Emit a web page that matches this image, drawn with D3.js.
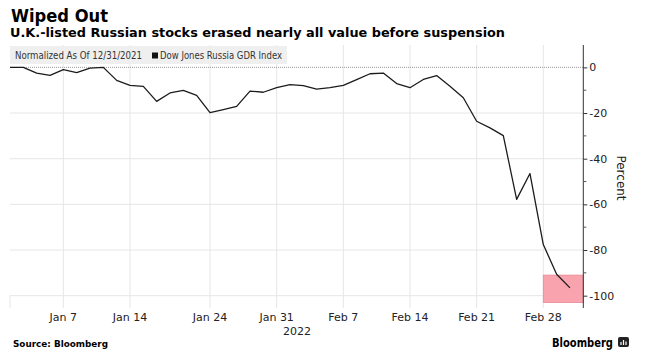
<!DOCTYPE html>
<html>
<head>
<meta charset="utf-8">
<script src="https://cdn.jsdelivr.net/npm/d3@7"></script>
<style>
  html, body { margin: 0; padding: 0; background: #fff; }
  svg { display: block; }
  text { font-family: "DejaVu Sans", Verdana, sans-serif; }
</style>
</head>
<body>
<svg id="chart" width="649" height="360"></svg>
<script>
// ---- Data ----
const dates = [
  "2022-01-03","2022-01-04","2022-01-05","2022-01-06","2022-01-07",
  "2022-01-10","2022-01-11","2022-01-12","2022-01-13","2022-01-14",
  "2022-01-17","2022-01-18","2022-01-19","2022-01-20","2022-01-21",
  "2022-01-24","2022-01-25","2022-01-26","2022-01-27","2022-01-28",
  "2022-01-31","2022-02-01","2022-02-02","2022-02-03","2022-02-04",
  "2022-02-07","2022-02-08","2022-02-09","2022-02-10","2022-02-11",
  "2022-02-14","2022-02-15","2022-02-16","2022-02-17","2022-02-18",
  "2022-02-21","2022-02-22","2022-02-23","2022-02-24","2022-02-25",
  "2022-02-28","2022-03-01","2022-03-02"
];
const gdrIndex = [
  0, 0, -2.5, -3.5, -1,
  -2.3, -0.3, 0, -5.7, -7.9,
  -8.3, -14.9, -11.2, -10.1, -12.3,
  -19.8, -18.5, -17.1, -10.4, -10.9,
  -8.9, -7.6, -8, -9.5, -8.9,
  -7.9, -5.4, -2.8, -2.5, -7.1,
  -8.9, -5.3, -3.6, -8.3, -13.3,
  -23.6, -26.5, -29.9, -57.8, -46.5,
  -77.6, -90.6, -96.6
];
const xTickDates = ["2022-01-07","2022-01-14","2022-01-24","2022-01-31","2022-02-07","2022-02-14","2022-02-21","2022-02-28"];
const xTickLabels = ["Jan 7","Jan 14","Jan 24","Jan 31","Feb 7","Feb 14","Feb 21","Feb 28"];
const yMajorTicks = [0, -20, -40, -60, -80, -100];
const yMinorTicks = [-10, -30, -50, -70, -90];
const highlightStart = "2022-02-28";
const highlightRange = [-91, -103];

// ---- Layout ----
const svg = d3.select("#chart");
const plotLeft = 10, plotRight = 583.3, plotTop = 45, plotBottom = 308;

const x = d3.scaleLinear().domain([0, dates.length]).range([plotLeft, plotRight]);
const y = d3.scaleLinear().domain([9.8, -105.4]).range([plotTop, plotBottom]);

// gridlines horizontal
svg.append("g").selectAll("line")
  .data(yMajorTicks.filter(d => d !== 0))
  .join("line")
  .attr("x1", plotLeft).attr("x2", plotRight)
  .attr("y1", d => y(d)).attr("y2", d => y(d))
  .attr("stroke", "#e6e6e6").attr("stroke-width", 1);

// vertical gridlines
const tickIdx = xTickDates.map(d => dates.indexOf(d));
svg.append("g").selectAll("line")
  .data(tickIdx)
  .join("line")
  .attr("x1", d => x(d)).attr("x2", d => x(d))
  .attr("y1", plotTop).attr("y2", plotBottom)
  .attr("stroke", "#e6e6e6").attr("stroke-width", 1);

// left edge short tick
svg.append("line")
  .attr("x1", x(0)).attr("x2", x(0))
  .attr("y1", y(-100)).attr("y2", plotBottom)
  .attr("stroke", "#e6e6e6");

// zero line dotted
svg.append("line")
  .attr("x1", plotLeft).attr("x2", plotRight)
  .attr("y1", y(0)).attr("y2", y(0))
  .attr("stroke", "#9a9a9a").attr("stroke-width", 1)
  .attr("stroke-dasharray", "1,1");

// highlight rect
const hi = dates.indexOf(highlightStart);
svg.append("rect")
  .attr("x", x(hi)).attr("width", x(dates.length) - x(hi))
  .attr("y", y(highlightRange[0])).attr("height", y(highlightRange[1]) - y(highlightRange[0]))
  .attr("fill", "#f8a3ae").attr("stroke", "#e98795").attr("stroke-width", 0.8);

// line
const line = d3.line().x((d, i) => x(i)).y(d => y(d));
svg.append("path")
  .datum(gdrIndex)
  .attr("d", line)
  .attr("fill", "none")
  .attr("stroke", "#1c1c1c")
  .attr("stroke-width", 1.3)
  .attr("stroke-linejoin", "round");

// legend box
svg.append("rect")
  .attr("x", 10).attr("y", 46).attr("width", 277).attr("height", 18)
  .attr("fill", "#efefef");
svg.append("text")
  .attr("x", 15).attr("y", 59)
  .attr("font-size", 10).attr("fill", "#333")
  .attr("textLength", 127).attr("lengthAdjust", "spacingAndGlyphs")
  .text("Normalized As Of 12/31/2021");
svg.append("rect")
  .attr("x", 152).attr("y", 52.5).attr("width", 6).attr("height", 6)
  .attr("fill", "#111");
svg.append("text")
  .attr("x", 160).attr("y", 59)
  .attr("font-size", 10).attr("fill", "#333")
  .attr("textLength", 122).attr("lengthAdjust", "spacingAndGlyphs")
  .text("Dow Jones Russia GDR Index");

// right axis
const yAxis = d3.axisRight(y).tickValues(yMajorTicks).tickSize(4).tickPadding(2)
  .tickFormat(d => String(d));
const gy = svg.append("g").attr("transform", `translate(${plotRight},0)`).call(yAxis);
gy.select(".domain").attr("d", `M0,${plotTop}V${plotBottom}`).attr("stroke", "#333");
gy.selectAll(".tick line").attr("stroke", "#333");
gy.selectAll(".tick text").attr("font-size", 11).attr("fill", "#222")
  .attr("font-family", "DejaVu Sans, Verdana, sans-serif");
svg.append("g").selectAll("line")
  .data(yMinorTicks).join("line")
  .attr("x1", plotRight).attr("x2", plotRight + 3)
  .attr("y1", d => y(d)).attr("y2", d => y(d))
  .attr("stroke", "#555");

// Percent label
svg.append("text")
  .attr("transform", `translate(617,178) rotate(90)`)
  .attr("text-anchor", "middle")
  .attr("font-size", 12).attr("fill", "#222")
  .text("Percent");

// x labels
svg.append("g").selectAll("text")
  .data(tickIdx)
  .join("text")
  .attr("x", d => x(d)).attr("y", 321)
  .attr("text-anchor", "middle")
  .attr("font-size", 11).attr("fill", "#222")
  .text((d, i) => xTickLabels[i]);
svg.append("text")
  .attr("x", 297).attr("y", 335)
  .attr("text-anchor", "middle")
  .attr("font-size", 11).attr("fill", "#222")
  .text("2022");

// titles
svg.append("text")
  .attr("x", 11).attr("y", 22)
  .attr("font-size", 17).attr("font-weight", "bold").attr("fill", "#000")
  .attr("textLength", 97).attr("lengthAdjust", "spacingAndGlyphs")
  .text("Wiped Out");
svg.append("text")
  .attr("x", 10).attr("y", 37)
  .attr("font-size", 11.5).attr("font-weight", "bold").attr("fill", "#000")
  .attr("textLength", 495).attr("lengthAdjust", "spacingAndGlyphs")
  .text("U.K.-listed Russian stocks erased nearly all value before suspension");

// source
svg.append("text")
  .attr("x", 13).attr("y", 347)
  .attr("font-size", 9).attr("font-weight", "bold").attr("fill", "#000")
  .attr("textLength", 95).attr("lengthAdjust", "spacingAndGlyphs")
  .text("Source: Bloomberg");

// Bloomberg logo
svg.append("text")
  .attr("x", 552).attr("y", 347)
  .attr("font-size", 12).attr("font-weight", "bold").attr("fill", "#000")
  .attr("textLength", 61).attr("lengthAdjust", "spacingAndGlyphs")
  .text("Bloomberg");
svg.append("rect")
  .attr("x", 618).attr("y", 337).attr("width", 11).attr("height", 10)
  .attr("rx", 2).attr("fill", "#222");
svg.append("path")
  .attr("d", "M621,345V342M623.5,345V340M626,345V341.5")
  .attr("stroke", "#fff").attr("stroke-width", 1.2);
</script>
</body>
</html>
